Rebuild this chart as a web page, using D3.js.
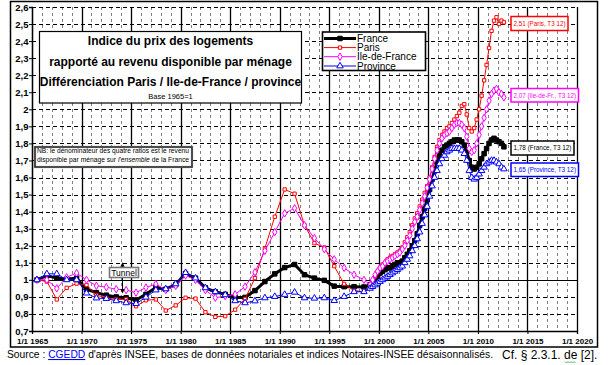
<!DOCTYPE html>
<html>
<head>
<meta charset="utf-8">
<script src="https://cdnjs.cloudflare.com/ajax/libs/d3/7.8.5/d3.min.js"></script>
<style>
body { margin: 0; background: #fff; }
svg { display: block; font-family: "Liberation Sans", Arial, sans-serif; }
</style>
</head>
<body>
<svg id="chart" width="609" height="365"></svg>
<script>
// Annual points 1965-1998, quarterly points 1999 T1 - 2012 T3
var annualYears = [1965, 1966, 1967, 1968, 1969, 1970, 1971, 1972, 1973, 1974,
    1975, 1976, 1977, 1978, 1979, 1980, 1981, 1982, 1983, 1984,
    1985, 1986, 1987, 1988, 1989, 1990, 1991, 1992, 1993, 1994,
    1995, 1996, 1997, 1998];
var quarterYears = [1999, 2000, 2001, 2002, 2003, 2004, 2005, 2006, 2007, 2008,
    2009, 2010, 2011, 2012];

var franceAnnual = [1.00, 1.025, 1.01, 1.005, 1.01, 0.945, 0.925, 0.91, 0.90, 0.895,
    0.882, 0.915, 0.955, 0.945, 0.972, 1.037, 1.01, 0.953, 0.93, 0.915,
    0.897, 0.897, 0.937, 0.99, 1.035, 1.072, 1.09, 1.03, 1.01, 0.997,
    0.963, 0.96, 0.96, 0.958];
var franceQuarterly = [0.97, 0.98, 1.00, 1.02,  1.04, 1.05, 1.06, 1.07,
    1.07, 1.08, 1.09, 1.10,  1.10, 1.11, 1.13, 1.15,  1.17, 1.20, 1.23, 1.27,
    1.32, 1.37, 1.42, 1.47,  1.53, 1.59, 1.64, 1.69,  1.73, 1.76, 1.78, 1.79,
    1.80, 1.81, 1.82, 1.82,  1.82, 1.81, 1.79, 1.75,  1.70, 1.66, 1.65, 1.66,
    1.68, 1.71, 1.74, 1.77,  1.80, 1.82, 1.83, 1.82,  1.81, 1.80, 1.78];

var parisAnnual = [1.00, 0.99, 0.885, 0.953, 0.978, 0.97, 0.91, 0.895, 0.885, 0.885,
    0.845, 0.88, 0.885, 0.82, 0.85, 0.895, 0.89, 0.81, 0.783, 0.787,
    0.825, 0.888, 1.01, 1.185, 1.37, 1.53, 1.505, 1.32, 1.215, 1.19,
    1.08, 0.976, 0.937, 0.93];
var parisQuarterly = [0.96, 0.99, 1.02, 1.05,  1.07, 1.09, 1.10, 1.12,
    1.13, 1.14, 1.15, 1.16,  1.17, 1.19, 1.22, 1.25,  1.28, 1.32, 1.36, 1.39,
    1.43, 1.47, 1.51, 1.55,  1.60, 1.66, 1.72, 1.78,  1.82, 1.85, 1.87, 1.89,
    1.90, 1.92, 1.94, 1.96,  1.98, 2.02, 2.03, 1.97,  1.89, 1.87, 1.89, 1.94,
    2.00, 2.08, 2.17, 2.26,  2.36, 2.46, 2.52, 2.54,  2.50, 2.52, 2.51];

var idfAnnual = [1.00, 1.00, 0.95, 1.015, 1.04, 1.00, 0.965, 0.957, 0.945, 0.94,
    0.925, 0.955, 0.975, 0.94, 0.965, 1.025, 1.00, 0.94, 0.895, 0.905,
    0.915, 0.96, 1.045, 1.17, 1.28, 1.39, 1.42, 1.32, 1.245, 1.18,
    1.12, 1.07, 1.03, 1.00];
var idfQuarterly = [0.97, 1.00, 1.03, 1.05,  1.07, 1.08, 1.10, 1.11,
    1.12, 1.13, 1.14, 1.15,  1.16, 1.18, 1.20, 1.23,  1.26, 1.30, 1.34, 1.37,
    1.41, 1.45, 1.49, 1.54,  1.59, 1.65, 1.71, 1.76,  1.80, 1.83, 1.85, 1.86,
    1.87, 1.89, 1.91, 1.92,  1.92, 1.91, 1.89, 1.84,  1.77, 1.75, 1.76, 1.80,
    1.85, 1.90, 1.95, 2.00,  2.05, 2.09, 2.11, 2.12,  2.10, 2.09, 2.07];

var provinceAnnual = [1.00, 1.035, 1.035, 1.00, 1.00, 0.922, 0.893, 0.89, 0.877, 0.865,
    0.86, 0.898, 0.94, 0.947, 0.976, 1.042, 1.01, 0.953, 0.93, 0.912,
    0.877, 0.865, 0.876, 0.894, 0.902, 0.914, 0.927, 0.894, 0.892, 0.894,
    0.878, 0.902, 0.93, 0.93];
var provinceQuarterly = [0.95, 0.96, 0.97, 0.98,  0.99, 1.00, 1.01, 1.02,
    1.03, 1.04, 1.05, 1.06,  1.07, 1.08, 1.10, 1.12,  1.14, 1.17, 1.20, 1.24,
    1.28, 1.33, 1.38, 1.43,  1.49, 1.55, 1.60, 1.64,  1.68, 1.71, 1.73, 1.75,
    1.76, 1.77, 1.77, 1.77,  1.77, 1.76, 1.74, 1.70,  1.64, 1.60, 1.59, 1.60,
    1.62, 1.64, 1.66, 1.68,  1.69, 1.70, 1.70, 1.69,  1.68, 1.66, 1.65];

var seriesNames = ["France", "Paris", "Ile-de-France", "Province"];
var lastLabels = ["2,51 (Paris, T3 12)", "2,07 (Ile-de-Fr., T3 12)",
    "1,78 (France, T3 12)", "1,65 (Province, T3 12)"];

var xTickYears = [1965, 1970, 1975, 1980, 1985, 1990, 1995, 2000, 2005, 2010, 2015, 2020];
var yTicks = [0.7, 0.8, 0.9, 1.0, 1.1, 1.2, 1.3, 1.4, 1.5, 1.6, 1.7, 1.8, 1.9,
    2.0, 2.1, 2.2, 2.3, 2.4, 2.5, 2.6];

var titleLines = ["Indice du prix des logements",
    "rapporté au revenu disponible par ménage",
    "Différenciation Paris / Ile-de-France / province"];

var svg = d3.select("#chart");

var x = d3.scaleLinear().domain([1965, 2020]).range([32, 577]);
var y = d3.scaleLinear().domain([0.7, 2.6]).range([331, 7]);

function buildPoints(annual, quarterly) {
    var pts = annual.map(function(v, i) {
        return { t: annualYears[i] + 0.5, v: v };
    });
    quarterly.forEach(function(v, k) {
        pts.push({ t: quarterYears[Math.floor(k / 4)] + (k % 4 + 0.5) / 4, v: v });
    });
    return pts;
}

var series = [
    { name: seriesNames[0], color: "#000000", width: 3, symbol: d3.symbolSquare, size: 20, fill: "#000000",
      points: buildPoints(franceAnnual, franceQuarterly) },
    { name: seriesNames[1], color: "#ff0000", width: 1, symbol: d3.symbolSquare, size: 11, fill: "#ffffff",
      points: buildPoints(parisAnnual, parisQuarterly) },
    { name: seriesNames[2], color: "#ff00ff", width: 1, symbol: d3.symbolDiamond, size: 16, fill: "#ffffff",
      points: buildPoints(idfAnnual, idfQuarterly) },
    { name: seriesNames[3], color: "#0000ff", width: 1, symbol: d3.symbolTriangle, size: 18, fill: "#ffffff",
      points: buildPoints(provinceAnnual, provinceQuarterly) }
];

drawFrame();
drawGrid();
drawAxes();
drawSeries();
drawTitle();
drawNotes();
drawLegend();
drawLastLabels();
drawSource();

function drawFrame() {
    svg.append("rect").attr("width", 609).attr("height", 365).attr("fill", "#fff");
    svg.append("rect").attr("x", 10.5).attr("y", 1.5).attr("width", 587).attr("height", 345.5)
        .attr("fill", "none").attr("stroke", "#000").attr("stroke-width", 1.5);
}

function drawGrid() {
    var g = svg.append("g");
    var minor = d3.range(1966, 2020).filter(function(yr) { return yr % 5 !== 0; });
    g.selectAll(".vminor").data(minor).enter().append("line")
        .attr("x1", function(d) { return Math.round(x(d)) + 0.5; })
        .attr("x2", function(d) { return Math.round(x(d)) + 0.5; })
        .attr("y1", y(2.6)).attr("y2", y(0.7))
        .attr("stroke", "#808080").attr("stroke-dasharray", "3,3");

    g.selectAll(".hgrid").data(yTicks.slice(1)).enter().append("line")
        .attr("x1", x(1965)).attr("x2", x(2020))
        .attr("y1", function(d) { return Math.round(y(d)) + 0.5; })
        .attr("y2", function(d) { return Math.round(y(d)) + 0.5; })
        .attr("stroke", "#000")
        .attr("stroke-dasharray", function(d) { return Math.abs(d - 1) < 1e-9 ? null : "4,3"; });

    g.selectAll(".vmajor").data(xTickYears).enter().append("line")
        .attr("x1", function(d) { return Math.round(x(d)) + 0.5; })
        .attr("x2", function(d) { return Math.round(x(d)) + 0.5; })
        .attr("y1", y(2.6)).attr("y2", y(0.7))
        .attr("stroke", "#000").attr("stroke-width", 1.3);
}

function drawAxes() {
    var xAxis = d3.axisBottom(x)
        .tickValues(xTickYears)
        .tickSize(3)
        .tickFormat(function(d) { return "1/1 " + d; });
    var gx = svg.append("g").attr("transform", "translate(0," + y(0.7) + ")").call(xAxis);
    gx.select(".domain").attr("stroke-width", 1.3);
    gx.selectAll("text").attr("font-size", "8px").attr("font-weight", "bold")
        .attr("font-family", "'Liberation Sans', Arial, sans-serif").attr("dy", "0.9em");

    var yAxis = d3.axisLeft(y)
        .tickValues(yTicks)
        .tickSize(3)
        .tickFormat(function(d) { return d3.format(".1f")(d).replace(".0", "").replace(".", ","); });
    var gy = svg.append("g").attr("transform", "translate(" + x(1965) + ",0)").call(yAxis);
    gy.select(".domain").attr("stroke-width", 1.3);
    gy.selectAll("text").attr("font-size", "9.5px").attr("font-weight", "bold")
        .attr("font-family", "'Liberation Sans', Arial, sans-serif").attr("x", -3.5);
}

function drawSeries() {
    var line = d3.line()
        .x(function(d) { return x(d.t); })
        .y(function(d) { return y(d.v); });

    series.forEach(function(s) {
        var g = svg.append("g");
        g.append("path").datum(s.points)
            .attr("d", line)
            .attr("fill", "none")
            .attr("stroke", s.color)
            .attr("stroke-width", s.width)
            .attr("stroke-linejoin", "round");
        g.selectAll("path.mk").data(s.points).enter().append("path")
            .attr("class", "mk")
            .attr("d", d3.symbol().type(s.symbol).size(s.size))
            .attr("transform", function(d) { return "translate(" + x(d.t) + "," + y(d.v) + ")"; })
            .attr("fill", s.fill)
            .attr("stroke", s.color)
            .attr("stroke-width", 1);
    });
}

function drawTitle() {
    svg.append("rect").attr("x", 39.5).attr("y", 31.5).attr("width", 262).attr("height", 71.5)
        .attr("fill", "#fff").attr("stroke", "#000").attr("stroke-width", 1.2);
    var ty = [45, 66, 86];
    titleLines.forEach(function(t, i) {
        svg.append("text").attr("x", 170.5).attr("y", ty[i])
            .attr("text-anchor", "middle")
            .attr("font-size", "12px").attr("font-weight", "bold")
            .text(t);
    });
    svg.append("text").attr("x", 170.5).attr("y", 98.8)
        .attr("text-anchor", "middle").attr("font-size", "7.5px")
        .text("Base 1965=1");
}

function drawNotes() {
    // NB box
    svg.append("rect").attr("x", 35).attr("y", 147).attr("width", 157).attr("height", 20)
        .attr("fill", "#fff").attr("stroke", "#6e6e6e").attr("stroke-width", 2.2);
    svg.append("rect").attr("x", 35).attr("y", 147).attr("width", 157).attr("height", 20)
        .attr("fill", "none").attr("stroke", "#000").attr("stroke-width", 0.6);
    var nb1 = svg.append("text").attr("x", 37).attr("y", 153.3).attr("font-size", "6.6px")
        .attr("textLength", 152).attr("lengthAdjust", "spacingAndGlyphs");
    nb1.text("NB: le dénominateur des quatre ratios est le revenu");
    var nb2 = svg.append("text").attr("x", 37).attr("y", 162).attr("font-size", "6.6px")
        .attr("textLength", 152).attr("lengthAdjust", "spacingAndGlyphs");
    nb2.append("tspan").text("disponible par ménage sur ");
    nb2.append("tspan").attr("font-style", "italic").text("l'ensemble");
    nb2.append("tspan").text(" de la France");

    // Tunnel box with arrows
    var ax = 122.5;
    var arrow = svg.append("g").attr("stroke", "#000").attr("fill", "#000");
    arrow.append("line").attr("x1", ax).attr("x2", ax).attr("y1", 267).attr("y2", y(1.1) + 2);
    arrow.append("path").attr("d", "M" + ax + "," + (y(1.1) - 0.5) + "l-2.2,4.5h4.4z").attr("stroke", "none");
    arrow.append("line").attr("x1", ax).attr("x2", ax).attr("y1", 278).attr("y2", 291);
    arrow.append("path").attr("d", "M" + ax + ",293.5l-2.2,-4.5h4.4z").attr("stroke", "none");

    svg.append("rect").attr("x", 109.5).attr("y", 267.5).attr("width", 29).attr("height", 10)
        .attr("fill", "#fff").attr("stroke", "#777").attr("stroke-width", 1.6);
    svg.append("text").attr("x", 124).attr("y", 275.6).attr("text-anchor", "middle")
        .attr("font-size", "8.5px").text("Tunnel");
}

function drawLegend() {
    var clip = svg.append("clipPath").attr("id", "legclip");
    clip.append("rect").attr("x", 322).attr("y", 31.5).attr("width", 104).attr("height", 39.5);
    var g = svg.append("g");
    g.append("rect").attr("x", 322.5).attr("y", 32).attr("width", 103).attr("height", 38.5)
        .attr("fill", "#fff");
    var items = g.append("g").attr("clip-path", "url(#legclip)");
    var rowY = [38.5, 47.6, 56.7, 66];
    series.forEach(function(s, i) {
        items.append("line").attr("x1", 324).attr("x2", 356)
            .attr("y1", rowY[i]).attr("y2", rowY[i])
            .attr("stroke", s.color).attr("stroke-width", s.width);
        items.append("path")
            .attr("d", d3.symbol().type(s.symbol).size(s.size))
            .attr("transform", "translate(340," + rowY[i] + ")")
            .attr("fill", s.fill).attr("stroke", s.color);
        items.append("text").attr("x", 357).attr("y", rowY[i]).attr("dy", "0.36em")
            .attr("font-size", "10px").text(s.name);
    });
    g.append("rect").attr("x", 322.5).attr("y", 32).attr("width", 103).attr("height", 38.5)
        .attr("fill", "none").attr("stroke", "#000").attr("stroke-width", 1.6);
}

function drawLastLabels() {
    var colors = ["#ff0000", "#ff00ff", "#000000", "#0000ff"];
    var boxes = [[511, 16.5, 57, 14], [511, 88.5, 67.5, 13.5], [511, 141, 63, 14], [511, 163, 67.5, 13.5]];
    lastLabels.forEach(function(t, i) {
        var b = boxes[i];
        svg.append("rect").attr("x", b[0]).attr("y", b[1]).attr("width", b[2]).attr("height", b[3])
            .attr("fill", "#fff").attr("stroke", colors[i]).attr("stroke-width", 1.5);
        svg.append("text").attr("x", b[0] + 2.5).attr("y", b[1] + b[3] / 2).attr("dy", "0.35em")
            .attr("font-size", "6.8px").attr("fill", colors[i])
            .attr("textLength", b[2] - 5).attr("lengthAdjust", "spacingAndGlyphs")
            .text(t);
    });
}

function drawSource() {
    var t = svg.append("text").attr("x", 7).attr("y", 358).attr("font-size", "10.5px")
        .attr("textLength", 486).attr("lengthAdjust", "spacingAndGlyphs");
    t.append("tspan").text("Source : ");
    t.append("tspan").attr("fill", "#0000ff").attr("text-decoration", "underline").text("CGEDD");
    t.append("tspan").text(" d'après INSEE, bases de données notariales et indices Notaires-INSEE désaisonnalisés.");
    svg.append("text").attr("x", 502).attr("y", 358.5).attr("font-size", "12px")
        .text("Cf. § 2.3.1. de [2].");
    // spell-check squiggle under "de"
    svg.append("path").attr("d", "M565,361.5l1.5,1.5l1.5,-1.5l1.5,1.5l1.5,-1.5l1.5,1.5l1.5,-1.5l1.5,1.5")
        .attr("fill", "none").attr("stroke", "#3a9b3a").attr("stroke-width", 0.8);
}
</script>
</body>
</html>
